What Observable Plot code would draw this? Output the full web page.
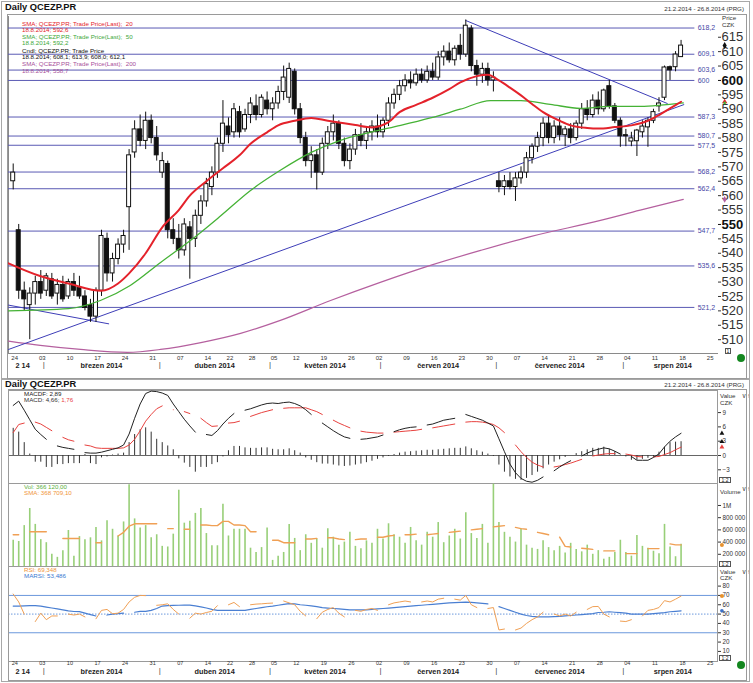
<!DOCTYPE html>
<html><head><meta charset="utf-8">
<script src="https://cdn.jsdelivr.net/npm/d3@7"></script>
<script src="https://cdn.jsdelivr.net/npm/@observablehq/plot@0.6"></script>
<style>
html,body{margin:0;padding:0;background:#fff;}
#wrap{position:relative;width:753px;height:683px;overflow:hidden;font-family:"Liberation Sans",Arial,sans-serif;color:#222;}
.a{position:absolute;white-space:nowrap;line-height:1;}
.box{position:absolute;border:1px solid #a8a8a8;box-sizing:border-box;}
.title{font-weight:bold;font-size:9.3px;color:#111;}
.lg{font-size:6.2px;}
.ax{font-size:6.2px;color:#333;}
.sq{position:absolute;border:1px solid #555;background:#fff;font-size:5px;line-height:5px;text-align:center;box-sizing:border-box;}
</style></head>
<body><div id="wrap"></div>
<script>
// ---------------- data ----------------
const tickDay  = [0,5,10,15,20,25,30,35,39,43,47,51,56,61,66,71,76,81,86,91,96,101,106,111,116,121,126];
const tickText = ["24","03","10","17","24","31","07","14","22","28","05","12","19","26","02","09","16","23","30","07","14","21","28","04","11","18","25"];
const monthStart = [5,26,46,66,87,110];
const monthMid   = [1.7,16,36.5,56.5,77,99,119.5];
const monthText  = ["2 14","březen 2014","duben 2014","květen 2014","červen 2014","červenec 2014","srpen 2014"];

const open = [
565,548,527,522,526,530,527,531,526,529,
525,530,528,525,522,518,527,545,533,538,
543,556,575,583,579,586,580,568,571,548,
545,541,549,545,553,558,563,568,578,584,
582,589,583,588,591,588,593,590,592,596,
594,603,590,580,572,574,568,578,582,585,
578,572,576,581,579,582,584,582,586,592,
595,598,600,599,602,600,603,601,608,610,
607,612,609,618,605,602,604,600,565,563,
565,563,566,568,573,577,580,585,580,584,
581,583,580,585,590,588,593,590,598,591,
586,581,578.8,578.9,582,583.7,586,591,594,604.6,
604.6,608.1];
const high = [
571,550,530,528,532,534,533,533,531,532,
531,533,532,527,524,528,548,547,540,545,
548,576,586,588,589,588,584,575,572,552,
550,552,551,555,560,566,570,580,593,587,
592,591,590,594,595,595,596,594,598,605,
606,604,592,582,577,576,580,584,588,586,
580,578,583,585,584,586,588,587,594,597,
600,602,603,604,604,605,606,610,612,613,
612,616,621,619,607,606,606,603,568,567,
568,568,570,575,578,582,587,588,586,587,
584,585,586,592,593,595,596,597,600,592,
587,583,582,583,586,587,590,594,605,605,
610,613.9];
const low = [
562,524,520,510,522,524,525,524,522,523,
524,525,524,520,516,516,525,530,530,536,
540,541,573,577,576,578,572,566,545,543,
538,539,531,542,550,556,560,566,575,578,
580,580,582,585,586,587,588,586,590,593,
592,588,578,570,566,562,567,576,579,576,
570,569,574,577,576,579,580,580,584,590,
593,596,597,598,599,599,600,600,605,606,
605,607,608,603,598,599,598,596,561,560,
562,558,564,566,571,575,577,578,578,579,
577,578,579,583,586,587,588,589,590,585,
576.8,577,577,573.6,580,576.8,585,589,593,600,
603,608.0];
const close = [
568,527,524,526,530,526,532,525,529,524,
530,527,525,521,518,527,546,533,538,543,
546,574,583,579,586,580,574,572,548,545,
541,550,545,553,558,564,568,578,585,581,
590,582,588,592,588,594,590,592,596,601,
604,590,580,572,574,568,578,582,585,578,
572,576,581,579,582,584,582,586,592,595,
598,600,599,602,600,603,601,608,610,607,
611,609,619,605,602,604,600,601,563,565,
563,566,568,573,577,580,585,580,584,581,
583,580,585,590,588,593,590,596.5,591,586,
580.6,580.6,579.9,582.6,584,586,589,592,604.5,603.5,
609,612.1];

const levels = [618.2,609.1,603.6,600,587.3,580.7,577.5,568.2,562.4,547.7,535.6,521.2];

const sma20Day = [-0.85,5,10,16,19,21,24,27,30,32,35,38,41,43,46,48,51,54,57,59,62,65,68,70,73,76,79,81,84,86,88,90,92,94,96,99,101,104,106,109,112,115,117,119,121];
const sma20Val = [536.5,532,529.5,527,529.5,533,540,549,555,560,565,569.5,574,578,582,584.4,586,587,586,585.4,584.5,583.7,585.5,589,591.5,594,597,599.3,601.5,602,600,597.5,594.8,591.8,589,586,584.4,583.5,583.3,583.8,584.4,586,588,590.3,592.6];
const sma50Day = [-0.85,10,15.8,21.2,26.7,32.1,37.6,43,48.4,54,59.3,64.7,70.2,75.6,81,86.5,92,97.3,102.8,108.2,113.6,121.4];
const sma50Val = [520,520.8,523.6,528.8,536.8,544.4,553,561.8,568.8,575,579.2,582,584.4,587,590,593,593,591.7,590.3,591,591,592.2];
const sma200Day = [-0.85,4.9,12.2,20.7,26.7,34,41.2,48.4,57.5,66.5,75.6,84.7,93.7,106.4,113.6,121.4];
const sma200Val = [509.5,508,506.6,505.6,506.6,509,512.2,516.7,523.6,529.9,535.8,541,545.8,551.4,555,558.7];

const trendDay = [[-0.85,121.5],[-0.85,17.3],[82,118.5]];
const trendVal = [[506.6,591.6],[522,515.5],[620.8,592]];

const macdHist = [
5.7,4.9,2.7,0.3,-1.4,-1.4,-2.5,-2.5,-1.9,-1.9,
-1.7,-1.7,-1.7,0.2,-1.7,-1.9,-0.5,-0.3,0.1,0.3,
0.5,2.7,4.4,5.4,5.8,4.9,3.4,2.7,2.0,1.2,
-0.7,-1.6,-2.5,-3.5,-2.5,-2.5,-1.9,-1.5,-0.3,1.0,
1.9,1.9,1.6,1.5,1.5,1.6,1.6,1.3,1.2,1.2,
1.4,1.0,0.5,-0.5,-1.0,-1.5,-1.8,-1.8,-2.0,-2.2,
-2.3,-2.2,-2.0,-1.8,-1.5,-1.2,-0.8,-0.5,-0.2,0.2,
0.5,0.7,0.8,0.9,1.0,1.1,1.1,1.2,1.3,1.4,
1.5,1.5,1.8,1.4,1.0,0.7,0.3,-0.2,-2.0,-3.5,
-4.5,-5.0,-5.2,-4.8,-4.2,-3.5,-2.8,-2.0,-1.4,-0.9,
-0.4,0.0,0.4,0.8,1.2,1.5,1.5,1.75,1.3,0.8,
0.0,-0.3,-1.0,-1.0,-0.8,-0.6,-0.4,0.7,1.75,2.7,
2.8,2.89];
const macdLine = [
10.5,11.4,9.5,7.5,5.5,4.4,3.4,null,2.0,1.7,
1.5,1.3,null,0.6,0.5,0.5,0.7,1.0,1.3,1.6,
2.2,4.5,7.8,10.8,13.0,13.5,13.4,13.1,12.6,10.8,
9.2,7.6,6.2,4.9,null,4.4,4.2,5.2,6.6,7.8,
8.8,null,9.5,9.8,10.2,10.6,10.9,11.0,10.9,11.1,
11.2,10.9,10.4,9.6,8.6,null,6.8,6.0,5.2,4.5,
3.9,3.6,null,3.4,3.5,3.7,3.9,4.3,null,5.0,
5.4,5.7,5.9,6.0,null,6.4,6.6,7.0,7.4,7.6,
7.8,null,8.6,8.2,7.8,7.4,6.8,6.2,3.5,0.8,
-1.8,-3.6,-4.8,-5.4,-5.6,-5.2,-4.5,null,-3.2,-2.4,
-1.7,-1.1,null,-0.1,0.5,1.0,1.3,1.6,1.4,0.9,
0.3,null,-0.2,-1.0,-1.0,-1.0,-0.4,0.35,1.8,3.0,
3.9,4.66];
const macdSignal = [
4.8,6.5,6.8,null,7.0,6.6,5.9,5.2,null,3.8,
3.3,3.0,null,2.2,2.0,1.6,1.5,1.5,1.5,1.5,
1.6,2.2,3.4,5.2,7.2,8.6,9.8,10.4,null,9.6,
null,9.2,8.8,null,7.8,6.9,6.1,6.2,null,6.8,
6.9,7.2,null,8.2,8.6,9.0,9.3,9.6,null,9.9,
10.0,10.0,10.0,10.0,9.6,9.2,8.6,null,7.4,6.8,
6.3,5.8,null,5.1,4.9,4.8,4.7,4.7,null,4.9,
5.0,5.1,5.2,5.3,5.5,null,5.8,6.0,6.2,6.4,
6.6,null,7.0,7.1,7.1,7.0,6.8,6.5,5.8,4.8,
null,2.2,0.8,-0.4,-1.4,-2.0,-2.4,null,-2.4,-2.2,
-1.9,-1.6,-1.2,-0.8,null,-0.1,0.1,0.3,0.4,0.4,
null,0.3,0.1,-0.2,-0.3,null,-0.3,-0.2,0.2,0.6,
1.2,1.76];

const volume = [ // thousands
430,410,670,950,690,440,390,200,150,260,
590,170,490,440,470,640,420,750,610,500,
730,1340,780,630,670,470,520,330,320,530,
1250,710,740,870,950,540,340,340,1020,500,
610,610,610,300,230,310,630,100,170,230,
690,460,260,520,380,450,300,620,480,350,
400,560,330,290,420,380,610,450,700,520,
480,380,640,420,350,560,480,720,390,500,
610,450,880,540,460,690,380,1350,720,560,
480,400,620,350,300,280,420,310,260,330,
220,380,280,240,350,200,260,120,150,230,
430,230,170,510,330,300,250,210,690,320,
160,366];
const volSma = [
520,520,null,570,570,570,570,null,null,460,
460,460,460,null,null,390,390,null,null,500,
560,660,700,700,700,700,700,null,620,620,
null,610,610,null,680,680,670,670,740,740,
680,680,670,570,570,null,null,430,430,390,
390,390,null,450,450,460,null,470,470,450,
440,null,440,450,450,null,480,480,500,510,
null,520,520,530,null,520,530,540,null,560,
570,580,null,600,610,620,null,650,660,670,
null,640,620,610,null,560,540,520,null,480,
330,320,null,300,290,280,null,256,256,256,
null,211,211,211,null,293,293,293,null,370,
354,354];
const rsi = [
71.5,63,50,null,42,51,44,48,48,null,
50,49,50,47,null,45,54,55,50.4,51,
55,63,68,70,69.8,null,59.4,60,61,55,
50,null,45.6,51,50,51.7,53,59,null,60,
62.5,58,null,60,60.7,61,61.5,61.8,null,64,
62,60,53,48,null,45,52,55,57,51,
47,null,54,53,55,56,54,null,60,62,
63,64,63,null,63,64,63,66,67,null,
66,65,70,60,57,null,56,57,33,34,
null,33,35,40,44,47,52,null,50,48,
50,48,52,null,55,58,58.2,50,47,null,
42.5,42,44,null,48,54,55,57,64.4,63,
66,69.3];
const marsi = [
58.6,58.6,58.8,59,59,58.6,57.5,56.5,55.5,54.5,
53.5,52.8,52.6,51,49.5,48,null,49,50,50.5,
51,null,52,53,53,54,56,58.6,59,59.3,
59.5,59.7,59.7,58.8,57.8,56.5,55,54,54,54,
54,54,54,55,56,57,57.9,58.6,59.5,60.4,
61.2,61,60,59.5,58.8,58,57,56.5,56,55.5,
55,54.5,54.5,54.5,54.5,55,55.5,56,56.5,57,
57.5,58,58.5,59,59.5,60,60.5,61,61.5,62,
62.3,62.5,62.8,62.5,62,61.5,61,null,58,56,
54,52,50,48.5,47.5,47,47,47,47.2,47.5,
48,48.5,49,49.5,50,50.5,51.7,52,52.5,52,
51.5,51,50,50,50,50,50.5,51,51.5,52.5,
53,53.5];

const priceTicks = d3.range(510, 616, 5);

// ---------------- build ----------------
[open,high,low,close,macdHist,macdLine,macdSignal,volume,volSma,rsi,marsi].forEach((a,k)=>{
  if (a.length !== 122) throw new Error("array " + k + " has length " + a.length);
});

const FONT = "Liberation Sans, Arial, sans-serif";
const wrap = document.getElementById("wrap");
const XD = [-0.85, 127.6];
const base = {width: 753, marginLeft: 8, marginRight: 36,
  style: {overflow: "visible", fontFamily: FONT, background: "transparent"}};
const ser = (arr) => arr.map((v, i) => ({i, v}));
const pts = (days, vals) => days.map((d, k) => ({i: d, v: vals[k]}));

function place(svg, top) {
  svg.style.position = "absolute"; svg.style.left = "0px"; svg.style.top = top + "px";
  wrap.appendChild(svg);
}
function xLabels(dyT, dyM, fsT) {
  return [
    Plot.text(tickDay, {x: d => d, text: (d, i) => tickText[i], frameAnchor: "bottom", lineAnchor: "top", dy: dyT, dx: 1.5, fontSize: fsT, fill: "#333"}),
    Plot.text(monthStart, {x: d => d, text: () => "|", frameAnchor: "bottom", lineAnchor: "top", dy: dyM - 1, dx: 3, fontSize: 8, fill: "#444"}),
    Plot.text(monthMid, {x: d => d, text: (d, i) => monthText[i], frameAnchor: "bottom", lineAnchor: "top", dy: dyM, fontSize: 7.3, fontWeight: "bold", fill: "#222"})
  ];
}

// price panel
const C = open.map((o, i) => ({i, o, h: high[i], l: low[i], c: close[i]}));
const trends = trendDay.flatMap((d, k) => d.map((x, j) => ({i: x, v: trendVal[k][j], k})));
const p1 = Plot.plot({...base, height: 363, marginTop: 1, marginBottom: 25,
  x: {domain: XD, axis: null},
  y: {domain: [505.2, 622.2], axis: null},
  marks: [
    Plot.frame({anchor: "left", stroke: "#8a8a8a"}),
    Plot.frame({anchor: "bottom", stroke: "#8a8a8a"}),
    Plot.ruleY(levels, {x1: XD[0], x2: 123.5, stroke: "#5a5ab4"}),
    Plot.text(levels, {x: 124, y: d => d, text: d => String(d).replace(".", ","), textAnchor: "start", fontSize: 7, fill: "#4646a6"}),
    Plot.line(pts(sma200Day, sma200Val), {x: "i", y: "v", stroke: "#b5609f", strokeWidth: 1.2, curve: "monotone-x"}),
    Plot.line(trends, {x: "i", y: "v", z: "k", stroke: "#3e3eb8", strokeWidth: 1}),
    Plot.ruleX(C, {x: "i", y1: "l", y2: "h", stroke: "#111"}),
    Plot.rect(C, {x1: d => d.i - 0.36, x2: d => d.i + 0.36, y1: "o", y2: "c", fill: d => d.c >= d.o ? "#fff" : "#111", stroke: "#111", strokeWidth: 1}),
    Plot.line(pts(sma50Day, sma50Val), {x: "i", y: "v", stroke: "#45b235", strokeWidth: 1.3, curve: "monotone-x"}),
    Plot.line(pts(sma20Day, sma20Val), {x: "i", y: "v", stroke: "#e4222b", strokeWidth: 2, curve: "monotone-x"}),
    Plot.axisY({anchor: "right", ticks: priceTicks.filter(t => t !== 550 && t !== 600), tickSize: 3, tickPadding: 1, fontSize: 13, color: "#333"}),
    Plot.axisY({anchor: "right", ticks: [550, 600], tickSize: 3, tickPadding: 1, fontSize: 13, fontWeight: "bold", color: "#111"}),
    Plot.dot([close[121]], {x: 128.9, y: d => d, symbol: "diamond", r: 2.2, fill: "#111"}),
    Plot.dot([sma20Val[sma20Val.length - 1]], {x: 128.9, y: d => d, symbol: "triangle", r: 2, fill: "#e4222b"}),
    Plot.dot([sma50Val[sma50Val.length - 1]], {x: 128.9, y: d => d, r: 1.3, fill: "#45b235"}),
    Plot.dot([sma200Val[sma200Val.length - 1]], {x: 128.9, y: d => d, symbol: "diamond", r: 2, fill: "#b5609f"}),
    ...xLabels(2, 9, 6)
  ]});
place(p1, 15);

// MACD panel
const p2 = Plot.plot({...base, height: 93, marginTop: 0, marginBottom: 0,
  x: {domain: XD, axis: null},
  y: {domain: [-5.87, 13.63], axis: null},
  marks: [
    Plot.frame({stroke: "#9a9a9a"}),
    Plot.ruleY([0], {stroke: "#666"}),
    Plot.ruleX(ser(macdHist), {x: "i", y1: 0, y2: "v", stroke: "#333"}),
    Plot.line(ser(macdSignal), {x: "i", y: "v", stroke: "#e8423f", strokeWidth: 1}),
    Plot.line(ser(macdLine), {x: "i", y: "v", stroke: "#222", strokeWidth: 1}),
    Plot.axisY({anchor: "right", ticks: [-3, 0, 3, 6, 9], tickSize: 3, tickPadding: 2, fontSize: 6.3, color: "#333"}),
    Plot.dot([macdLine[121], macdHist[121]], {x: 128.4, y: d => d, symbol: "triangle", r: 1.8, fill: "#111"}),
    Plot.dot([macdSignal[121]], {x: 128.4, y: d => d, symbol: "triangle", r: 1.8, fill: "#e8423f"})
  ]});
place(p2, 390);

// Volume panel
const p3 = Plot.plot({...base, height: 83, marginTop: 0, marginBottom: 0,
  x: {domain: XD, axis: null},
  y: {domain: [0, 1360], axis: null},
  marks: [
    Plot.frame({stroke: "#9a9a9a"}),
    Plot.ruleX(ser(volume), {x: "i", y1: 0, y2: "v", stroke: "#98cf78", strokeWidth: 1.6}),
    Plot.line(ser(volSma), {x: "i", y: "v", stroke: "#f0a055", strokeWidth: 1.4}),
    Plot.axisY({anchor: "right", ticks: [200, 400, 600, 800, 1000], tickSize: 3, tickPadding: 2, fontSize: 6.3, color: "#333",
      tickFormat: d => d === 1000 ? "1M" : d + " 000"}),
    Plot.dot([volSma[121]], {x: 128.4, y: d => d, r: 2, fill: "#e8922e"})
  ]});
place(p3, 483);

// RSI panel
const p4 = Plot.plot({...base, height: 117, marginTop: 0, marginBottom: 22,
  x: {domain: XD, axis: null},
  y: {domain: [-0.8, 101], axis: null},
  marks: [
    Plot.frame({stroke: "#9a9a9a"}),
    Plot.ruleY([70, 30], {stroke: "#6b98dc"}),
    Plot.ruleY([50], {stroke: "#6b98dc", strokeDasharray: "1.5,1.5"}),
    Plot.line(ser(marsi), {x: "i", y: "v", stroke: "#4a7fd2", strokeWidth: 1.2}),
    Plot.line(ser(rsi), {x: "i", y: "v", stroke: "#f0a055", strokeWidth: 1}),
    Plot.axisY({anchor: "right", ticks: [10, 20, 30, 40, 50, 60, 70, 80], tickSize: 3, tickPadding: 2, fontSize: 6.3, color: "#333"}),
    Plot.dot([rsi[121]], {x: 128.4, y: d => d, r: 2, fill: "#e8922e"}),
    Plot.dot([marsi[121]], {x: 128.4, y: d => d, r: 1.8, fill: "#3a70c8"}),
    ...xLabels(0, 7, 5.5)
  ]});
place(p4, 566);

// ---------------- decorations & text ----------------
function add(html, css, cls) {
  const e = document.createElement("div");
  e.className = cls || "a";
  e.innerHTML = html;
  Object.assign(e.style, css);
  wrap.appendChild(e);
  return e;
}
add("", {left: "1px", top: "1px", width: "749px", height: "378px"}, "box");
add("", {left: "7px", top: "14px", width: "740px", height: "365px", borderColor: "#9a9a9a"}, "box");
add("", {left: "1px", top: "379px", width: "749px", height: "303px"}, "box");
add("", {left: "8px", top: "389px", width: "739px", height: "292px", borderColor: "#9a9a9a"}, "box");

add("Daily QCEZP.PR", {left: "5px", top: "3px"}, "a title");
add("21.2.2014 - 26.8.2014 (PRG)", {right: "9px", top: "6px"}, "a ax");
add("Price", {left: "722px", top: "15px"}, "a ax");
add("CZK", {left: "722px", top: "22px"}, "a ax");

const lgTop = [
  ["SMA; QCEZP.PR; Trade Price(Last);&nbsp; 20", "#e4222b", 21],
  ["18.8.2014; 592,6", "#e4222b", 27],
  ["SMA; QCEZP.PR; Trade Price(Last);&nbsp; 50", "#3da83a", 34],
  ["18.8.2014; 592,2", "#3da83a", 40],
  ["Cndl; QCEZP.PR; Trade Price", "#111", 48],
  ["18.8.2014; 608,1; 613,9; 608,0; 612,1", "#111", 54],
  ["SMA; QCEZP.PR; Trade Price(Last);&nbsp; 200", "#a8509a", 61],
  ["18.8.2014; 558,7", "#a8509a", 68]
];
lgTop.forEach(([t, c, y]) => add(t, {left: "22px", top: y + "px", color: c}, "a lg"));

add("Daily QCEZP.PR", {left: "5px", top: "379.5px"}, "a title");
add("21.2.2014 - 26.8.2014 (PRG)", {right: "9px", top: "382px"}, "a ax");
add("Value", {left: "720px", top: "393px"}, "a ax");
add("CZK", {left: "720px", top: "400px"}, "a ax");
add("MACDF: 2,89", {left: "24px", top: "391px", color: "#222"}, "a lg");
add("MACD: 4,66; <span style='color:#e8423f'>1,76</span>", {left: "24px", top: "397px", color: "#333"}, "a lg");

add("Volume", {left: "720px", top: "489px"}, "a ax");
add("Vol: 366 120,00", {left: "24px", top: "484px", color: "#5cb040"}, "a lg");
add("SMA: 368 709,10", {left: "24px", top: "490px", color: "#f0953a"}, "a lg");

add("Value", {left: "720px", top: "568.5px"}, "a ax");
add("CZK", {left: "720px", top: "575px"}, "a ax");
add("RSI: 69,348", {left: "24px", top: "567px", color: "#f0953a"}, "a lg");
add("MARSI: 53,486", {left: "24px", top: "573px", color: "#3a78d0"}, "a lg");

// small scale boxes
[[725, 348, "1", 6], [719, 477, "1:2", 12], [719, 561, "1:2", 12], [719, 655, "1:2", 12]].forEach(([x, y, t, w]) =>
  add(t, {left: x + "px", top: y + "px", width: w + "px", height: "6px"}, "sq"));

// green status dots
[[737, 354], [737, 661]].forEach(([x, y]) =>
  add("", {left: x + "px", top: y + "px", width: "8px", height: "8px", borderRadius: "50%", background: "#13871f"}, "a"));
</script>
</body></html>
